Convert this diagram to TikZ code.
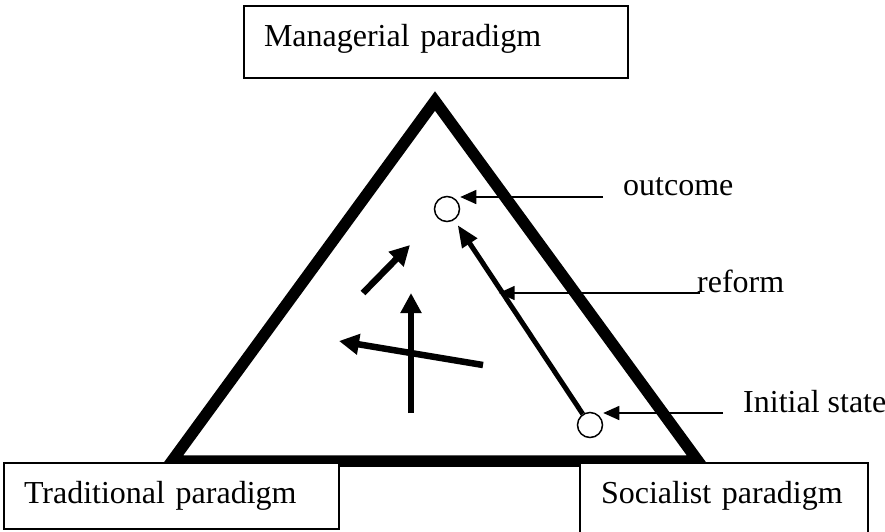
\documentclass[tikz,border=0pt]{standalone}
\usepackage{fontspec}
\setmainfont{Liberation Serif}
\usetikzlibrary{arrows.meta}

\begin{document}
\begin{tikzpicture}[x=1pt,y=-1pt,
  font=\fontsize{32}{38}\selectfont,
  parabox/.style={draw,line width=2pt,fill=white,anchor=north west,align=left},
  dot/.style={circle,draw,line width=1.5pt,minimum size=25pt,inner sep=0pt},
  pointer/.style={line width=1.5pt,-{Triangle[length=16pt,width=14pt]}},
  move/.style={line width=6.5pt,-{Triangle[length=20pt,width=20pt]}}]
\useasboundingbox (0,0) rectangle (885,531);
% triangle
\draw[line width=11.5pt] (435,101) -- (698,461) -- (172,461) -- cycle;
% paradigms
\node[parabox,minimum width=384pt,minimum height=72pt,inner xsep=20pt,text width=344pt,text depth=14pt] (manag) at (243,5) {Managerial paradigm};
\node[parabox,minimum width=335pt,minimum height=66pt,inner xsep=20pt,text width=295pt] (trad) at (3,462) {Traditional paradigm};
\node[parabox,minimum width=288pt,minimum height=74pt,inner xsep=21pt,text width=246pt,text depth=15pt] (social) at (579,462) {Socialist paradigm};
% states
\node[dot] (outc) at (447,209) {};
\node[dot] (init) at (590,425) {};
\draw[line width=5pt,-{Triangle[length=22pt,width=17pt]},shorten >=6pt] (init) -- coordinate[pos=0.623] (refmid) (outc);
% labels
\node[anchor=base west,inner sep=0pt] (outlab) at (623,195) {outcome};
\node[anchor=base west,inner sep=0pt] (reflab) at (697,292) {reform};
\node[anchor=base west,inner sep=0pt] (initlab) at (743,412) {Initial state};
\draw[pointer] ([shift={(-20,2)}]outlab.base west) -- ([shift={(0,2)}]outlab.base -| outc.east);
\draw[pointer,shorten >=-4pt] ([shift={(3,1)}]reflab.base west) -- ([shift={(0,1)}]reflab.base -| refmid);
\draw[pointer] ([shift={(-20,1)}]initlab.base west) -- ([shift={(0,1)}]initlab.base -| init.east);
% other moves
\draw[move] (363,293) -- (410,245);
\draw[move] (411,413) -- (411,293);
\draw[move] (483,365) -- (339,341);
\end{tikzpicture}
\end{document}
